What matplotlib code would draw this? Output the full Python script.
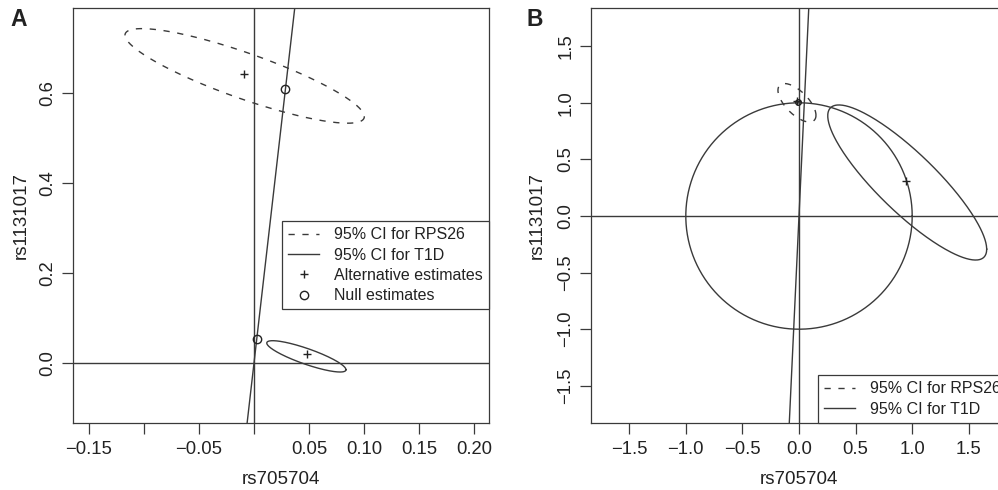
import numpy as np
import matplotlib
matplotlib.use("Agg")
import matplotlib.pyplot as plt

plt.rcParams['font.family'] = ['Liberation Sans', 'DejaVu Sans']

INK = '#3a3a3a'
TXT = '#222222'
DASH = (0, (4.5, 5.5))
LW = 1.0

# ---- panel A data (rs705704 vs rs1131017) ----
a_rps26_center = (-0.0085, 0.638)
a_rps26_half = (0.1088, 0.1051)
a_rps26_rho = -0.86
a_t1d_center = (0.0476, 0.0148)
a_t1d_half = (0.036, 0.0348)
a_t1d_rho = -0.85
a_t1d_slope = 21.3
a_alt_x = [-0.0088, 0.0479]
a_alt_y = [0.643, 0.0193]
a_null_x = [0.0282, 0.0024]
a_null_y = [0.6082, 0.0527]
a_xticks = [-0.15, -0.10, -0.05, 0.0, 0.05, 0.10, 0.15, 0.20]
a_xlabels = ['\u22120.15', '', '\u22120.05', '', '0.05', '0.10', '0.15', '0.20']
a_yticks = [0.0, 0.2, 0.4, 0.6]
a_ylabels = ['0.0', '0.2', '0.4', '0.6']

# ---- panel B data (standardised) ----
b_rps26_center = (-0.018, 1.0)
b_rps26_half = (0.168, 0.17)
b_rps26_rho = -0.65
b_t1d_center = (0.956, 0.296)
b_t1d_half = (0.702, 0.685)
b_t1d_rho = -0.86
b_circle_radius = 1.0
b_t1d_slope = 21.3
b_alt_x = [-0.02, 0.943]
b_alt_y = [1.015, 0.312]
b_null_x = [-0.012]
b_null_y = [1.005]
b_ticks = [-1.5, -1.0, -0.5, 0.0, 0.5, 1.0, 1.5]
b_labels = ['\u22121.5', '\u22121.0', '\u22120.5', '0.0', '0.5', '1.0', '1.5']


def ellipse(center, half, rho, n=300):
    t = np.linspace(0, 2 * np.pi, n)
    d = np.arccos(rho)
    return center[0] + half[0] * np.cos(t), center[1] + half[1] * np.cos(t + d)


def style_axes(ax):
    for s in ax.spines.values():
        s.set_color(INK)
        s.set_linewidth(0.9)
    ax.tick_params(direction='out', length=8, width=0.9, color=INK,
                   labelsize=13.3, labelcolor=TXT, pad=5)
    ax.tick_params(axis='y', labelrotation=90, pad=4)
    for lab in ax.get_yticklabels():
        lab.set_va('center')


def add_legend(ax, **kw):
    leg = ax.legend(borderaxespad=0, fontsize=11.5, fancybox=False, framealpha=1,
                    edgecolor=INK, handlelength=1.95, handletextpad=0.9,
                    borderpad=0.4, labelspacing=0.33, numpoints=1, **kw)
    leg.get_frame().set_linewidth(0.9)
    for t in leg.get_texts():
        t.set_color(TXT)
    return leg


fig = plt.figure(figsize=(9.98, 4.9), dpi=100)
axA = fig.add_axes([73 / 998, 67 / 490, 416 / 998, 415 / 490])
axB = fig.add_axes([591 / 998, 67 / 490, 416 / 998, 415 / 490])

# panel A
ax = axA
ax.axvline(0, color=INK, lw=LW)
ax.axhline(0, color=INK, lw=LW)
ax.axline((0, 0), slope=a_t1d_slope, color=INK, lw=LW)
ex, ey = ellipse(a_rps26_center, a_rps26_half, a_rps26_rho)
ax.plot(ex, ey, color=INK, lw=LW, ls=DASH, label='95% CI for RPS26')
ex, ey = ellipse(a_t1d_center, a_t1d_half, a_t1d_rho)
ax.plot(ex, ey, color=INK, lw=LW, label='95% CI for T1D')
ax.plot(a_alt_x, a_alt_y, ls='none', marker='+', ms=6, mew=1.0, color=TXT,
        label='Alternative estimates')
ax.plot(a_null_x, a_null_y, ls='none', marker='o', ms=6, mew=1.0, mfc='none',
        mec=TXT, label='Null estimates')
ax.set_xlim(-0.16455, 0.21364)
ax.set_ylim(-0.1333, 0.7889)
ax.set_xticks(a_xticks)
ax.set_xticklabels(a_xlabels)
ax.set_yticks(a_yticks)
ax.set_yticklabels(a_ylabels)
ax.set_xlabel('rs705704', fontsize=13.5, color=TXT, va='center')
ax.set_ylabel('rs1131017', fontsize=13.5, color=TXT, va='center')
ax.xaxis.set_label_coords(0.5, -0.137)
ax.yaxis.set_label_coords(-0.125, 0.5)
style_axes(ax)
add_legend(ax, loc='upper right', bbox_to_anchor=(1.0, 0.487))

# panel B
ax = axB
ax.axvline(0, color=INK, lw=LW)
ax.axhline(0, color=INK, lw=LW)
ax.axline((0, 0), slope=b_t1d_slope, color=INK, lw=LW)
t = np.linspace(0, 2 * np.pi, 400)
ax.plot(b_circle_radius * np.cos(t), b_circle_radius * np.sin(t), color=INK, lw=LW)
ex, ey = ellipse(b_rps26_center, b_rps26_half, b_rps26_rho)
ax.plot(ex, ey, color=INK, lw=LW, ls=DASH, label='95% CI for RPS26')
ex, ey = ellipse(b_t1d_center, b_t1d_half, b_t1d_rho)
ax.plot(ex, ey, color=INK, lw=LW, label='95% CI for T1D')
ax.plot(b_alt_x, b_alt_y, ls='none', marker='+', ms=6, mew=1.0, color=TXT)
ax.plot(b_null_x, b_null_y, ls='none', marker='o', ms=4, mew=1.0, mfc='none', mec=TXT)
ax.set_xlim(-1.8375, 1.8375)
ax.set_ylim(-1.8286, 1.8375)
ax.set_xticks(b_ticks)
ax.set_xticklabels(b_labels)
ax.set_yticks(b_ticks)
ax.set_yticklabels(b_labels)
ax.set_xlabel('rs705704', fontsize=13.5, color=TXT, va='center')
ax.set_ylabel('rs1131017', fontsize=13.5, color=TXT, va='center')
ax.xaxis.set_label_coords(0.5, -0.137)
ax.yaxis.set_label_coords(-0.13, 0.5)
style_axes(ax)
add_legend(ax, loc='lower right', bbox_to_anchor=(1.0, 0.0))

fig.text(10 / 998, 1 - 26 / 490, 'A', fontsize=16.5, weight='bold', color=TXT, va='baseline')
fig.text(527 / 998, 1 - 26 / 490, 'B', fontsize=16.5, weight='bold', color=TXT, va='baseline')

fig.savefig('out.png', dpi=100)
